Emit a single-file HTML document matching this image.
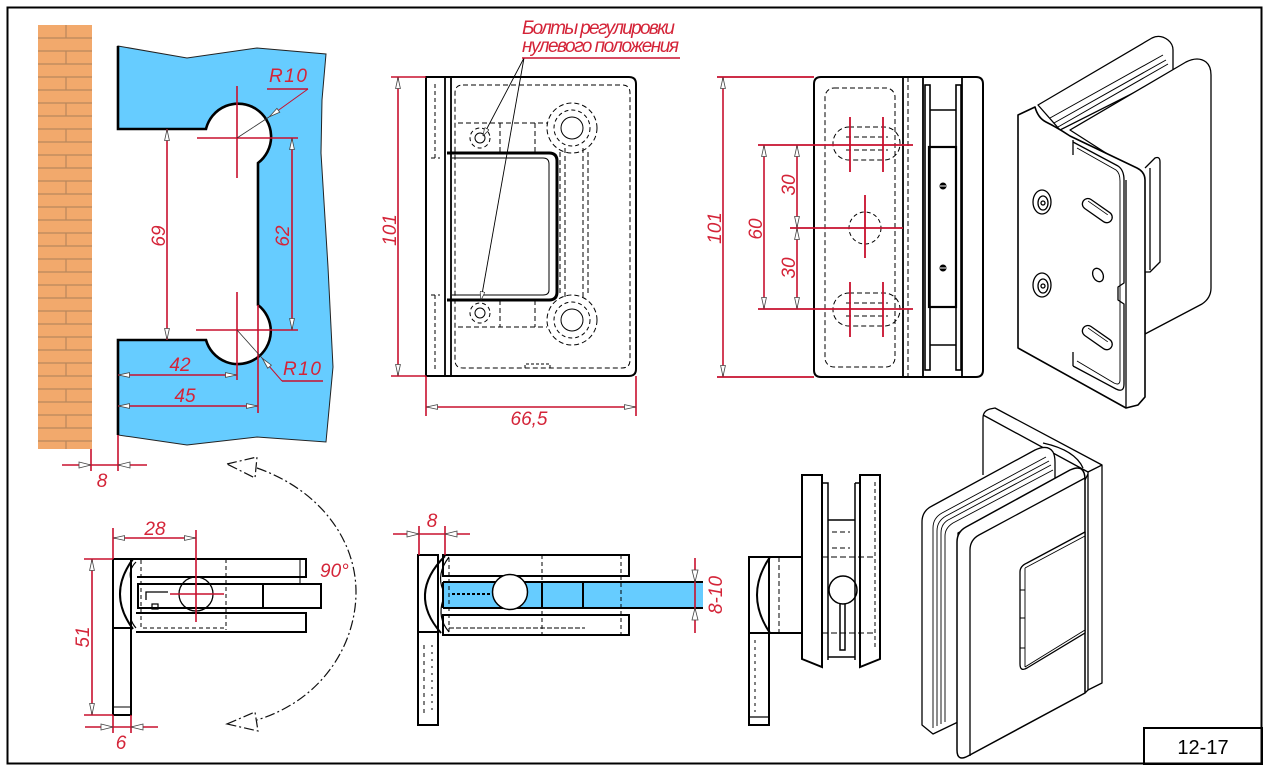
<!DOCTYPE html>
<html><head><meta charset="utf-8"><style>
html,body{margin:0;padding:0;background:#fff;}
svg{display:block;}
.r{fill:#d42438;font-family:"Liberation Sans","Noto Sans CJK SC",sans-serif;font-style:italic;font-size:19px;}
.k{fill:#000;font-family:"Liberation Sans",sans-serif;font-size:20px;}
</style></head><body>
<svg width="1269" height="771" viewBox="0 0 1269 771" xmlns="http://www.w3.org/2000/svg">
<defs>
<marker id="a" viewBox="0 0 12 6" refX="12" refY="3" markerWidth="12" markerHeight="6" markerUnits="userSpaceOnUse" orient="auto-start-reverse"><path d="M0.5,0.6 L11.5,3 L0.5,5.4 Z" fill="#fff" stroke="#444" stroke-width="0.8"/></marker>
<marker id="b" viewBox="0 0 10 6" refX="10" refY="3" markerWidth="9" markerHeight="5" markerUnits="userSpaceOnUse" orient="auto"><path d="M0,0 L10,3 L0,6 Z" fill="#fff" stroke="#222" stroke-width="0.8"/></marker>
</defs>
<rect x="0" y="0" width="1269" height="771" fill="#fff"/>
<!-- frame -->
<rect x="7.5" y="7.5" width="1254" height="756" fill="none" stroke="#000" stroke-width="2"/>
<rect x="1144" y="728" width="118" height="36" fill="none" stroke="#000" stroke-width="2"/>
<text x="1203" y="754" class="k" text-anchor="middle">12-17</text>

<!-- brick wall -->
<rect x="38" y="25" width="54" height="424" fill="#F2A96C"/>
<path d="M38,38H92M38,51H92M38,64H92M38,77H92M38,90H92M38,103H92M38,116H92M38,129H92M38,142H92M38,155H92M38,168H92M38,181H92M38,194H92M38,207H92M38,220H92M38,233H92M38,246H92M38,259H92M38,272H92M38,285H92M38,298H92M38,311H92M38,324H92M38,337H92M38,350H92M38,363H92M38,376H92M38,389H92M38,402H92M38,415H92M38,428H92M38,441H92" stroke="#B9875C" stroke-width="1.2" fill="none"/>
<path d="M66,25V38M66,51V64M66,77V90M66,103V116M66,129V142M66,155V168M66,181V194M66,207V220M66,233V246M66,259V272M66,285V298M66,311V324M66,337V350M66,363V376M66,389V402M66,415V428M66,441V449" stroke="#B9875C" stroke-width="1.2" fill="none"/>

<!-- glass blue shape -->
<path d="M118,46 L187,58 L257,48 L326,54 L322,100 L321,153 L328,267 L333,367 L326,442 L257,437 L187,445 L118,435 L118,340 L206,340 A33,33 0 1 0 258,305 L258,163 A33,33 0 1 0 206,129 L118,129 Z" fill="#66CCFF" stroke="#222" stroke-width="1"/>
<path d="M118,46 V129 H206 A33,33 0 1 1 258,163 V305 A33,33 0 1 1 206,340 H118 V435" fill="none" stroke="#000" stroke-width="2.6"/>

<!-- red dims left -->
<g stroke="#C8102E" stroke-width="1.6" fill="none">
<path d="M197,138 H298 M237,86 V178 M196,330 H298 M237,292 V380 M258,305 V413 M118,435 V471 M91,449 V471 M62,465 H147"/>
<line x1="167" y1="129" x2="167" y2="340" marker-start="url(#a)" marker-end="url(#a)"/>
<line x1="292" y1="138" x2="292" y2="330" marker-start="url(#a)" marker-end="url(#a)"/>
<line x1="118" y1="375" x2="237" y2="375" marker-start="url(#a)" marker-end="url(#a)"/>
<line x1="118" y1="406" x2="258" y2="406" marker-start="url(#a)" marker-end="url(#a)"/>
<path d="M267,89 H308 M282,381 H323"/>
<line x1="308" y1="89" x2="269" y2="117" stroke-width="1" marker-end="url(#a)"/>
<line x1="269" y1="117" x2="237" y2="138" stroke-width="0.8" stroke="#333"/>
<line x1="282" y1="381" x2="262" y2="358" stroke-width="1" marker-end="url(#a)"/>
<line x1="262" y1="358" x2="237" y2="330" stroke-width="0.8" stroke="#333"/>
</g>
<g fill="#fff" stroke="#444" stroke-width="0.8">
<polygon points="79,462 91,465 79,468"/><polygon points="130,462 118,465 130,468"/>
</g>
<text class="r" x="165" y="236" text-anchor="middle" transform="rotate(-90 165 236)" font-size="20">69</text>
<text class="r" x="289" y="236" text-anchor="middle" transform="rotate(-90 289 236)" font-size="20">62</text>
<text class="r" x="269" y="82" textLength="38">R10</text>
<text class="r" x="283" y="375" textLength="38">R10</text>
<text class="r" x="180" y="371" text-anchor="middle">42</text>
<text class="r" x="185" y="402" text-anchor="middle">45</text>
<text class="r" x="102" y="487" text-anchor="middle">8</text>

<!-- middle top view -->
<g fill="none" stroke="#000" stroke-width="1">
<path d="M426,77 H629 Q636,77 636,84 V369 Q636,376 629,376 H426 Z" stroke-width="2"/>
<path d="M445,77 V376 M451,77 V376" stroke-width="1.8"/>
<path d="M447,153 H549 Q557,153 557,161 V292 Q557,300 549,300 H447" stroke-width="3"/>
<path d="M452,158 H543 Q549,158 549,164 V290 Q549,295 543,295 H452" stroke-width="1"/>
<path d="M463,85 H622 Q630,85 630,93 V360 Q630,368 622,368 H463 Q455,368 455,360 V93 Q455,85 463,85 Z" stroke-dasharray="5,3"/>
<path d="M435,84 V158 M435,295 V370 M431,158 H440 M431,295 H440" stroke-dasharray="4,3"/>
<path d="M458,123 H547 M458,327 H547 M500,123 V153 M535,123 V153 M500,300 V327 M535,300 V327" stroke-dasharray="5,3"/>
<circle cx="572" cy="128" r="25" stroke-dasharray="5,3"/>
<circle cx="572" cy="128" r="18" stroke-dasharray="4,3"/>
<circle cx="572" cy="128" r="11"/>
<circle cx="572" cy="320" r="25" stroke-dasharray="5,3"/>
<circle cx="572" cy="320" r="18" stroke-dasharray="4,3"/>
<circle cx="572" cy="320" r="11"/>
<path d="M560,152 V296 M565,148 V300 M583,148 V300 M588,152 V296" stroke-dasharray="5,3"/>
<circle cx="480" cy="138" r="10" stroke-dasharray="4,3"/>
<circle cx="480" cy="138" r="5"/>
<circle cx="480" cy="313" r="10" stroke-dasharray="4,3"/>
<circle cx="480" cy="313" r="5"/>
<path d="M525,368 V364 H550 V368" stroke-dasharray="3,2"/>
<line x1="524" y1="58" x2="483" y2="136" stroke-width="0.9" marker-end="url(#b)"/>
<line x1="524" y1="58" x2="481" y2="300" stroke-width="0.9" marker-end="url(#b)"/>
</g>
<g stroke="#C8102E" stroke-width="1.6" fill="none">
<path d="M522,58 H680 M391,77 H426 M391,376 H426 M426,376 V416 M636,376 V416"/>
<line x1="398" y1="77" x2="398" y2="376" marker-start="url(#a)" marker-end="url(#a)"/>
<line x1="426" y1="407" x2="636" y2="407" marker-start="url(#a)" marker-end="url(#a)"/>
</g>
<text class="r" x="522" y="34" font-size="15" textLength="153">Болты регулировки</text>
<text class="r" x="522" y="52" font-size="15" textLength="157">нулевого положения</text>
<text class="r" x="396" y="230" text-anchor="middle" transform="rotate(-90 396 230)" font-size="20">101</text>
<text class="r" x="529" y="425" text-anchor="middle" font-size="20">66,5</text>

<!-- right top view -->
<g fill="none" stroke="#000" stroke-width="1">
<path d="M821,77 H976 Q983,77 983,84 V370 Q983,377 976,377 H821 Q814,377 814,370 V84 Q814,77 821,77 Z" stroke-width="2"/>
<path d="M903,77 V377 M923,77 V377 M962,77 V377" stroke-width="1.8"/>
<path d="M908,77 V377" stroke-dasharray="5,3"/>
<rect x="925" y="85" width="5" height="285" stroke-width="1.6"/>
<rect x="956" y="85" width="5" height="285" stroke-width="1.6"/>
<path d="M930,110 H956 M930,345 H956" stroke-width="1.6"/>
<rect x="929" y="147" width="27" height="160" stroke-width="2.2"/>
<rect x="825" y="88" width="70" height="279" rx="9" stroke-dasharray="5,3"/>
<rect x="833" y="127" width="67" height="33" rx="16" stroke-dasharray="5,3"/>
<path d="M846,137 H888 M846,150 H888" stroke-dasharray="5,3"/>
<rect x="833" y="293" width="67" height="33" rx="16" stroke-dasharray="5,3"/>
<path d="M846,303 H888 M846,316 H888" stroke-dasharray="5,3"/>
<circle cx="865" cy="228" r="16" stroke-dasharray="4,3"/>
</g>
<circle cx="943" cy="186" r="3.5" fill="#000"/><circle cx="943" cy="268" r="3.5" fill="#000"/>
<path d="M940,186 H946 M940,268 H946" stroke="#fff" stroke-width="1"/>
<g stroke="#C8102E" stroke-width="1.8" fill="none">
<path d="M717,77 H814 M717,377 H814 M758,145 H913 M758,309 H913 M790,228 H903 M850,117 V172 M883,117 V172 M850,282 V337 M883,282 V337 M865,195 V258"/>
<line x1="723" y1="77" x2="723" y2="377" stroke-width="1.6" marker-start="url(#a)" marker-end="url(#a)"/>
<line x1="764" y1="145" x2="764" y2="309" stroke-width="1.6" marker-start="url(#a)" marker-end="url(#a)"/>
<line x1="797" y1="145" x2="797" y2="228" stroke-width="1.6" marker-start="url(#a)" marker-end="url(#a)"/>
<line x1="797" y1="228" x2="797" y2="309" stroke-width="1.6" marker-start="url(#a)" marker-end="url(#a)"/>
</g>
<text class="r" x="721" y="228" text-anchor="middle" transform="rotate(-90 721 228)" font-size="20">101</text>
<text class="r" x="762" y="229" text-anchor="middle" transform="rotate(-90 762 229)" font-size="20">60</text>
<text class="r" x="795" y="185" text-anchor="middle" transform="rotate(-90 795 185)" font-size="20">30</text>
<text class="r" x="795" y="268" text-anchor="middle" transform="rotate(-90 795 268)" font-size="20">30</text>

<!-- rotation arc -->
<g fill="none" stroke="#111" stroke-width="1.2" stroke-dasharray="10,3,2,3">
<path d="M257,468 C320,490 356,540 356,592 C356,645 322,700 257,720"/>
<polygon points="227,464 257,457 255,478"/>
<polygon points="227,724 255,712 258,731"/>
</g>
<text class="r" x="320" y="577" font-size="20">90°</text>

<!-- bottom-left view -->
<g fill="none" stroke="#000" stroke-width="2">
<rect x="113" y="559" width="18" height="156"/>
<path d="M113,628 H131"/>
<path d="M113,707 H131" stroke-width="1"/>
<path d="M131,559 H306 V577 H137"/>
<path d="M300,559 V584" stroke-width="1"/>
<path d="M138,584 H321 V608 H138 Z"/>
<path d="M263,584 V608"/>
<path d="M136,613 H306 V632 H136"/>
<path d="M133,559 Q107,594 133,629"/>
<path d="M136,562 Q128,570 131,580 M136,628 Q129,620 131,612" stroke-width="1.2"/>
<path d="M141,560 V628 H226 M226,559 V630" stroke-dasharray="4,3" stroke-width="1"/>
<circle cx="196" cy="594" r="17" stroke-width="1.3"/>
<path d="M146,600 V592 H168" stroke-width="1.3"/>
<rect x="152" y="604" width="6" height="5" stroke-width="1.2"/>
</g>
<g stroke="#C8102E" stroke-width="1.6" fill="none">
<path d="M196,530 V622 M170,594 H224 M113,528 V559 M84,559 H113 M84,715 H113 M113,715 V733 M131,715 V733 M85,727 H158"/>
<line x1="113" y1="538" x2="196" y2="538" marker-start="url(#a)" marker-end="url(#a)"/>
<line x1="92" y1="559" x2="92" y2="715" marker-start="url(#a)" marker-end="url(#a)"/>
</g>
<g fill="#fff" stroke="#444" stroke-width="0.8">
<polygon points="101,724 113,727 101,730"/><polygon points="143,724 131,727 143,730"/>
</g>
<text class="r" x="155" y="535" text-anchor="middle">28</text>
<text class="r" x="89" y="637" text-anchor="middle" transform="rotate(-90 89 637)" font-size="20">51</text>
<text class="r" x="121" y="749" text-anchor="middle">6</text>

<!-- middle bottom view -->
<rect x="443" y="582" width="260" height="26" fill="#66CCFF"/>
<g fill="none" stroke="#000" stroke-width="2">
<rect x="418" y="555" width="20" height="170"/>
<path d="M418,632 H438"/>
<path d="M445,556 Q407,594 441,633"/>
<path d="M449,557 Q436,574 443,590 M449,632 Q437,618 443,600" stroke-width="1.2"/>
<rect x="443" y="555" width="186" height="21"/>
<path d="M443,582 H703 M443,608 H703 M443,582 V608 M542,582 V608 M583,582 V608"/>
<circle cx="510" cy="592" r="17.5" fill="#fff" stroke-width="1.5"/>
<rect x="443" y="615" width="186" height="20"/>
<path d="M542,555 V635 M621,555 V635 M449,558 V633" stroke-dasharray="4,3" stroke-width="1"/>
<path d="M452,594 H493" stroke-dasharray="3,2" stroke-width="2"/>
<path d="M449,628 H585" stroke-dasharray="5,2" stroke-width="1"/>
<path d="M424,645 V715" stroke-dasharray="4,4" stroke-width="1"/>
<path d="M432,645 V715" stroke-dasharray="2,5" stroke-width="1"/>
</g>
<g stroke="#C8102E" stroke-width="1.6" fill="none">
<path d="M419,526 V555 M445,526 V555 M393,534 H470 M695,558 V633"/>
</g>
<g fill="#fff" stroke="#444" stroke-width="0.8">
<polygon points="407,531 419,534 407,537"/><polygon points="457,531 445,534 457,537"/>
<polygon points="692,570 695,582 698,570"/><polygon points="692,620 695,608 698,620"/>
</g>
<text class="r" x="432" y="527" text-anchor="middle">8</text>
<text class="r" x="722" y="595" text-anchor="middle" transform="rotate(-90 722 595)" font-size="20">8-10</text>

<!-- side view -->
<g fill="none" stroke="#000" stroke-width="2">
<rect x="749" y="557" width="20" height="168"/>
<path d="M749,557 H802 M749,633 H802"/>
<path d="M749,717 H769" stroke-width="1.2"/>
<path d="M770,557 Q744,595 770,633"/>
<path d="M779,557 V633" stroke-dasharray="5,3" stroke-width="1"/>
<path d="M802,475 H822 V667 L802,659 Z" fill="#fff"/>
<path d="M822,483 H828 V660" stroke-width="1.5"/>
<path d="M860,475 H880 V659 L860,667 Z" fill="#fff"/>
<path d="M855,483 H860 M855,483 V660" stroke-width="1.5"/>
<path d="M828,520 H855 M828,657 H855" stroke-width="1.5"/>
<path d="M832,532 H850 M832,548 H850" stroke-dasharray="5,3" stroke-width="1"/>
<circle cx="843" cy="590" r="14" stroke-width="1.5"/>
<path d="M840,604 V650 H845 V604" stroke-width="1.5"/>
<path d="M822,557 H875 M822,633 H875" stroke-dasharray="6,3" stroke-width="1"/>
<path d="M875,482 V650" stroke-dasharray="4,3" stroke-width="1"/>
<path d="M755,640 V712" stroke-dasharray="3,4" stroke-width="1"/>
</g>

<!-- iso top-right -->
<g fill="#fff" stroke="#000" stroke-width="1.3" stroke-linejoin="round">
<path d="M1038,105 L1152,38 Q1160,34 1168,40 Q1173,44 1173,50 V73 L1060,130 Z"/>
<path d="M1050,118 L1163,55 M1054,123 L1166,60 M1058,127 L1168,64" fill="none" stroke-width="1"/>
<path d="M1070,130 L1186,62 Q1198,56 1206,62 Q1211,66 1211,75 V288 Q1211,298 1202,304 L1145,334 V178 Z"/>
<path d="M1145,168 L1155,158 Q1160,156 1160,162 V262 L1150,272 H1145"/>
<path d="M1150,168 V270" fill="none"/>
<path d="M1018,115 L1035,107 Q1038,118 1046,122 Q1058,128 1070,136 L1137,168 Q1145,172 1145,180 V397 L1138,405 L1126,408 L1018,348 Z" stroke-width="1.6"/>
<path d="M1126,180 V407" fill="none"/>
<path d="M1073,142 L1118,166 Q1124,170 1124,180 V283 L1118,287 V300 L1124,304 V384 Q1124,393 1116,389 L1073,366" fill="none"/>
<path d="M1077,148 L1116,170 Q1120,173 1120,181 V380 Q1120,386 1114,383 L1077,361" fill="none" stroke-width="0.9"/>
<path d="M1073,140 V155 M1073,352 V366" fill="none"/>
<ellipse cx="1042" cy="202" rx="9" ry="12"/><ellipse cx="1043" cy="203" rx="5" ry="7"/><circle cx="1043" cy="203" r="2"/>
<ellipse cx="1042" cy="285" rx="9" ry="12"/><ellipse cx="1043" cy="286" rx="5" ry="7"/><circle cx="1043" cy="286" r="2"/>
<g transform="rotate(35 1097 211)"><rect x="1080" y="205" width="34" height="11" rx="5.5"/><path d="M1084,208 H1108" fill="none" stroke-width="0.8"/></g>
<g transform="rotate(35 1097 338)"><rect x="1080" y="332" width="34" height="11" rx="5.5"/><path d="M1084,335 H1108" fill="none" stroke-width="0.8"/></g>
<ellipse cx="1098" cy="275" rx="5" ry="7" transform="rotate(-25 1098 275)"/>
</g>

<!-- iso bottom-right -->
<g fill="#fff" stroke="#000" stroke-width="1.3" stroke-linejoin="round">
<path d="M983,475 V418 Q983,411 990,409 L995,408 L1102,465 V683 L1088,690 V472 L983,415"/>
<path d="M1088,472 L1102,465" fill="none"/>
<path d="M1043,443 Q1075,450 1083,468" fill="none"/>
<path d="M922,725 V522 Q922,511 932,506 L1035,450 Q1048,444 1053,452 Q1055,456 1055,462 V480 L958,533 V722 L933,734 Z"/>
<path d="M933,728 V528 Q933,518 942,513 L1046,457 M937,726 V531 Q937,521 946,516 L1049,461 M941,724 V533 Q941,523 950,519 L1051,465 M945,722 V536 Q945,528 953,523 L1053,470" fill="none" stroke-width="0.9"/>
<path d="M957,750 V542 Q957,532 966,527 L1070,470 Q1085,463 1085,480 V693 L968,756 Q957,762 957,750 Z" stroke-width="1.5"/>
<path d="M970,756 V550 Q970,540 979,535 L1085,478" fill="none"/>
<path d="M1085,480 L1088,474 M1085,693 L1088,690" fill="none"/>
<path d="M1027,563 L1085,532 V633 L1027,668 Q1020,672 1020,664 V572 Q1020,566 1027,563 Z"/>
<path d="M1025,568 L1085,536 M1025,568 V667 M1025,667 L1085,630" fill="none" stroke-width="0.9"/>
<path d="M1020,590 H1025 M1020,618 H1025 M1020,648 H1025" fill="none" stroke-width="0.9"/>
</g>
</svg>
</body></html>
